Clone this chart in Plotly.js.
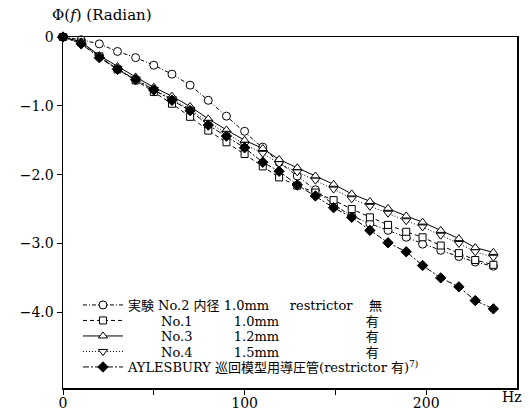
<!DOCTYPE html>
<html>
<head>
<meta charset="utf-8">
<script src="https://cdn.plot.ly/plotly-3.0.1.min.js"></script>
<style>
  html, body { margin: 0; padding: 0; background: #fff; }
  #chart { width: 530px; height: 411px; }
</style>
</head>
<body>
<div id="chart"></div>
<script>
// Phase characteristic Φ(f) of the pressure-lead tubes, in radians, vs frequency (Hz)
const freqHz = [0, 10, 20, 30, 40, 50, 60, 70, 80, 90, 100, 110, 119, 129, 139, 149, 159, 169, 179, 189, 198, 208, 218, 227, 237];

// 実験 No.2 内径 1.0mm restrictor 無
const phaseNo2 = [0, -0.04, -0.10, -0.21, -0.30, -0.41, -0.54, -0.70, -0.92, -1.15, -1.37, -1.60, -1.82, -2.02, -2.22, -2.44, -2.60, -2.71, -2.81, -2.91, -3.01, -3.10, -3.19, -3.27, -3.33];
// No.1 1.0mm 有
const phaseNo1 = [0, -0.08, -0.28, -0.47, -0.63, -0.80, -0.97, -1.16, -1.36, -1.53, -1.70, -1.88, -2.04, -2.16, -2.26, -2.37, -2.50, -2.62, -2.73, -2.83, -2.91, -3.03, -3.14, -3.24, -3.31];
// No.3 1.2mm 有
const phaseNo3 = [0, -0.07, -0.27, -0.43, -0.58, -0.73, -0.86, -1.01, -1.19, -1.35, -1.50, -1.62, -1.78, -1.90, -2.02, -2.14, -2.28, -2.39, -2.49, -2.60, -2.69, -2.81, -2.93, -3.06, -3.13];
// No.4 1.5mm 有
const phaseNo4 = [0, -0.09, -0.29, -0.46, -0.61, -0.76, -0.90, -1.05, -1.24, -1.40, -1.56, -1.69, -1.84, -1.96, -2.08, -2.21, -2.35, -2.46, -2.56, -2.67, -2.76, -2.88, -3.00, -3.12, -3.20];
// AYLESBURY round-robin model tube
const phaseAylesbury = [0, -0.10, -0.30, -0.47, -0.62, -0.77, -0.92, -1.07, -1.28, -1.44, -1.61, -1.82, -1.95, -2.15, -2.31, -2.48, -2.62, -2.81, -2.99, -3.12, -3.32, -3.50, -3.63, -3.83, -3.95];

const NB = "\u00a0";
const pad = n => NB.repeat(n);
const seriesNames = [
  "実験 No.2 内径 1.0mm" + pad(5) + "restrictor" + pad(4) + "無",
  pad(8) + "No.1" + pad(10) + "1.0mm" + pad(21) + "有",
  pad(8) + "No.3" + pad(10) + "1.2mm" + pad(21) + "有",
  pad(8) + "No.4" + pad(10) + "1.5mm" + pad(21) + "有",
  "AYLESBURY 巡回模型用導圧管(restrictor 有)<sup>7)</sup>"
];

const xTickVals = [0, 100, 200];
const xTickText = ["0", "100", "200"];
const xMinorVals = [50, 150];
const yTickVals = [0, -1, -2, -3, -4];
const yTickText = ["0", "\u22121.0", "\u22122.0", "\u22123.0", "\u22124.0"];

const FONT = "DejaVu Serif, Noto Sans CJK JP, serif";
const INK = "#000";
const X_RANGE = [0, 250];
const Y_RANGE = [-5.1, 0];

const styles = [
  { symbol: "circle", size: 8, fill: "#fff", dash: "4px,2px,1px,2px" },
  { symbol: "square", size: 7, fill: "#fff", dash: "4px,3px" },
  { symbol: "triangle-up", size: 8, fill: "#fff", dash: "solid" },
  { symbol: "triangle-down", size: 8, fill: "#fff", dash: "1px,2px" },
  { symbol: "diamond", size: 8, fill: INK, dash: "6px,2px,2px,2px" }
];
const seriesValues = [phaseNo2, phaseNo1, phaseNo3, phaseNo4, phaseAylesbury];
const legendIds = ["legend", "legend2", "legend3", "legend4", "legend5"];
const legendY = [0.2365, 0.1923, 0.1481, 0.1040, 0.0598];

const traces = seriesValues.map((vals, i) => ({
  type: "scatter",
  mode: "lines+markers",
  x: freqHz,
  y: vals,
  name: seriesNames[i],
  legend: legendIds[i],
  showlegend: true,
  cliponaxis: false,
  line: { color: INK, width: 1, dash: styles[i].dash },
  marker: {
    symbol: styles[i].symbol,
    size: styles[i].size,
    color: styles[i].fill,
    line: { color: INK, width: 1 }
  }
}));

const tickFont = { family: FONT, size: 14, color: INK };

// Inner half of the crossing tick marks, drawn by overlay axes with no labels
const innerTicksX = {
  overlaying: "x", anchor: "y", side: "bottom", range: X_RANGE,
  tickvals: xTickVals.concat(xMinorVals), ticks: "inside", ticklen: 4, tickcolor: INK,
  showticklabels: false, showline: false, showgrid: false, zeroline: false
};
const innerTicksY = {
  overlaying: "y", anchor: "x", side: "left", range: Y_RANGE,
  tickvals: yTickVals.slice(1), ticks: "inside", ticklen: 4, tickcolor: INK,
  showticklabels: false, showline: false, showgrid: false, zeroline: false
};

const layout = {
  width: 530,
  height: 411,
  showlegend: true,
  margin: { l: 63, r: 13, t: 37, b: 23 },
  paper_bgcolor: "#fff",
  plot_bgcolor: "#fff",
  font: { family: FONT, size: 14, color: INK },
  xaxis: {
    range: X_RANGE,
    tickvals: xTickVals,
    ticktext: xTickText,
    ticks: "outside",
    ticklen: 5,
    tickwidth: 1,
    tickcolor: INK,
    ticklabelstandoff: -3,
    minor: { tickvals: xMinorVals, ticks: "outside", ticklen: 5, tickcolor: INK },
    showline: true,
    linecolor: INK,
    linewidth: 1.5,
    mirror: true,
    showgrid: false,
    zeroline: false,
    tickfont: tickFont
  },
  yaxis: {
    range: Y_RANGE,
    tickvals: yTickVals,
    ticktext: yTickText,
    ticks: "outside",
    ticklen: 5,
    tickwidth: 1,
    tickcolor: INK,
    showline: true,
    linecolor: INK,
    linewidth: 1.5,
    mirror: true,
    showgrid: false,
    zeroline: false,
    tickfont: tickFont
  },
  xaxis2: innerTicksX,
  yaxis2: innerTicksY,
  annotations: [
    {
      xref: "paper", yref: "paper", x: -0.0286, y: 1.062,
      xanchor: "left", yanchor: "middle", showarrow: false,
      text: "Φ(<i>f</i>) (Radian)",
      font: { family: FONT, size: 15, color: INK }
    },
    {
      xref: "paper", yref: "paper", x: 0.989, y: -0.025,
      xanchor: "center", yanchor: "middle", showarrow: false,
      text: "Hz",
      font: { family: FONT, size: 14, color: INK }
    }
  ]
};

legendIds.forEach((id, i) => {
  layout[id] = {
    x: 0.033, y: legendY[i],
    xanchor: "left", yanchor: "middle",
    bgcolor: "rgba(0,0,0,0)",
    borderwidth: 0,
    itemwidth: 40,
    font: { family: FONT, size: 13, color: INK }
  };
});

Plotly.newPlot("chart", traces, layout, { displayModeBar: false, staticPlot: true });
</script>
</body>
</html>
